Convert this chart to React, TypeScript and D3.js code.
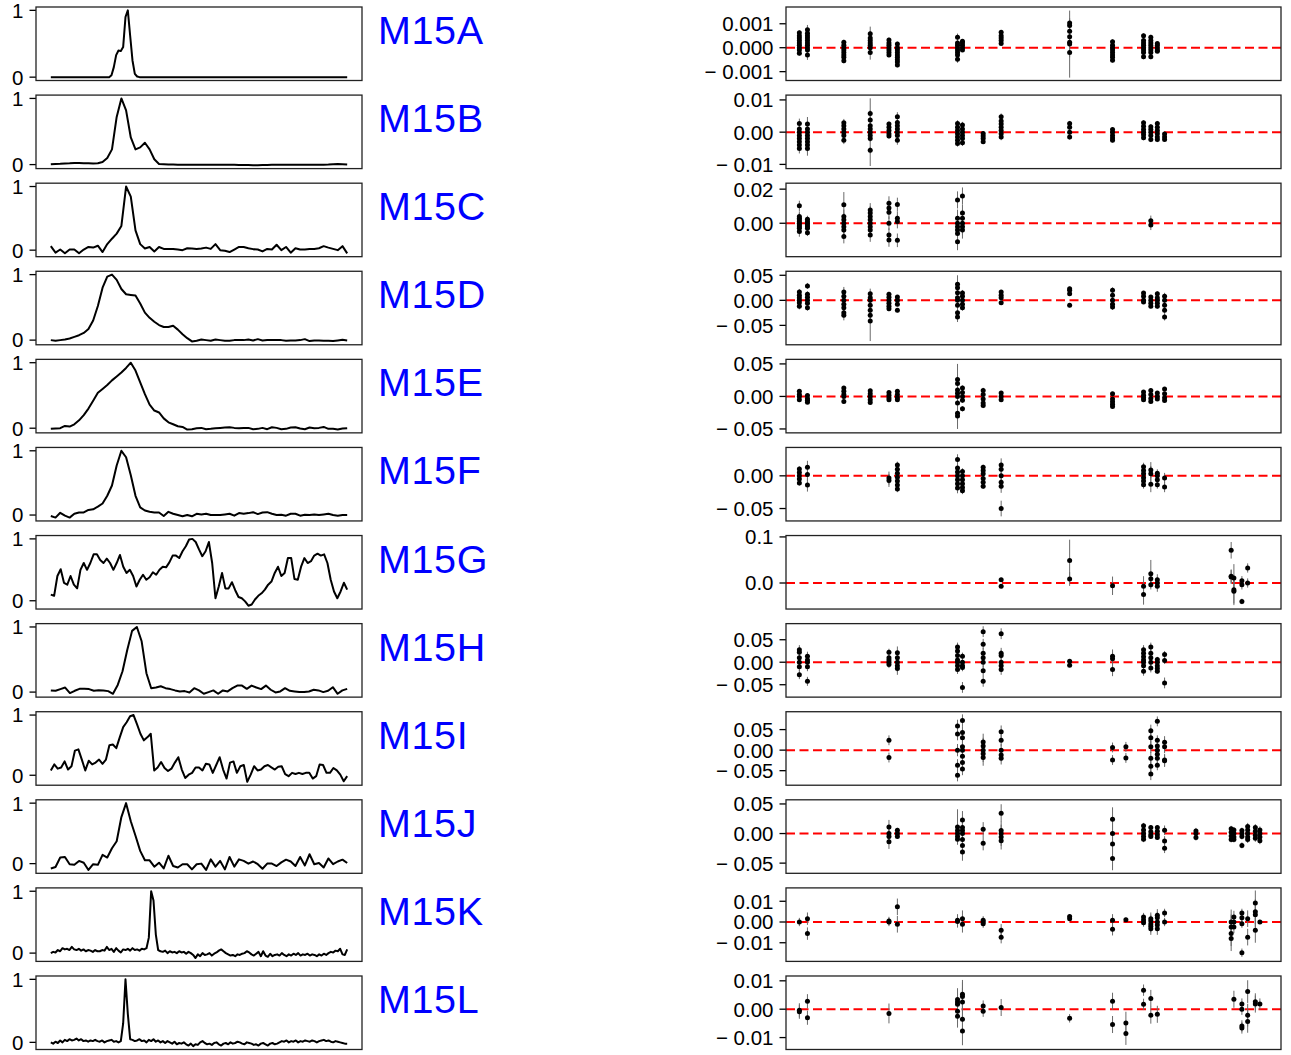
import React from 'react';
import * as d3 from 'd3';

// ---------- names ----------
const names = ['M15A', 'M15B', 'M15C', 'M15D', 'M15E', 'M15F', 'M15G', 'M15H', 'M15I', 'M15J', 'M15K', 'M15L'];

// ---------- pulse profiles (normalised intensity per phase bin) ----------
const profA = [
  0, 0, 0, 0, 0, 0, 0, 0, 0, 0, 0, 0, 0, 0, 0, 0,
  0, 0, 0, 0, 0, 0, 0, 0, 0, 0, 0.03, 0.15, 0.33, 0.4, 0.39, 0.45,
  0.9, 1, 0.62, 0.25, 0.05, 0.01, 0, 0, 0, 0, 0, 0, 0, 0, 0, 0,
  0, 0, 0, 0, 0, 0, 0, 0, 0, 0, 0, 0, 0, 0, 0, 0,
  0, 0, 0, 0, 0, 0, 0, 0, 0, 0, 0, 0, 0, 0, 0, 0,
  0, 0, 0, 0, 0, 0, 0, 0, 0, 0, 0, 0, 0, 0, 0, 0,
  0, 0, 0, 0, 0, 0, 0, 0, 0, 0, 0, 0, 0, 0, 0, 0,
  0, 0, 0, 0, 0, 0, 0, 0, 0, 0, 0, 0, 0, 0, 0, 0,
];
const profB = [
  0.005, 0.01, 0.012, 0.018, 0.02, 0.024, 0.025, 0.022, 0.02, 0.018, 0.02, 0.04, 0.1, 0.23, 0.72, 1.0,
  0.82, 0.41, 0.23, 0.26, 0.33, 0.23, 0.08, 0.01, 0.005, 0.0, 0.0, -0.003, -0.002, -0.004, -0.003, -0.002,
  -0.003, -0.004, -0.002, -0.003, -0.004, -0.003, -0.002, -0.003, -0.005, -0.006, -0.008, -0.01, -0.009, -0.007, -0.005, -0.004,
  -0.003, -0.004, -0.002, -0.003, -0.004, -0.003, -0.002, -0.003, -0.002, -0.001, -0.002, 0.0, 0.004, 0.008, 0.006, 0.002,
];
const profC = [
  0.063, -0.04, 0.01, -0.05, 0.01, 0.01, -0.05, 0.01, 0.05, 0.04, 0.07, -0.03, 0.095, 0.18, 0.26, 0.38,
  1.0, 0.84, 0.31, 0.095, 0.026, 0.05, -0.02, 0.05, 0.02, 0.02, 0.02, 0.01, 0.0, 0.03, 0.026, 0.02,
  0.026, 0.04, 0.02, 0.095, 0.0, -0.01, -0.03, 0.01, 0.05, 0.05, 0.03, 0.016, 0.01, -0.02, 0.02, 0.01,
  0.085, 0.0, 0.05, -0.04, 0.03, 0.01, 0.01, 0.02, 0.02, 0.03, 0.063, 0.04, 0.02, 0.0, 0.063, -0.05,
];
const profD = [
  0.0, -0.01, 0.0, 0.01, 0.025, 0.05, 0.075, 0.11, 0.17, 0.3, 0.52, 0.8, 0.97, 1.0, 0.92, 0.78,
  0.7, 0.69, 0.68, 0.56, 0.42, 0.34, 0.28, 0.23, 0.2, 0.2, 0.22, 0.16, 0.09, 0.03, -0.02, -0.01,
  0.01, 0.0, -0.01, 0.01, 0.0, -0.01, -0.01, 0.0, 0.0, 0.0, 0.01, -0.005, 0.015, -0.005, 0.0, 0.0,
  0.0, 0.0, -0.01, -0.005, -0.005, 0.0, 0.015, -0.015, -0.005, -0.005, -0.01, -0.01, -0.015, -0.005, 0.005, -0.005,
];
const profE = [
  -0.01, -0.005, 0.0, 0.035, 0.025, 0.06, 0.12, 0.2, 0.3, 0.42, 0.54, 0.6, 0.66, 0.73, 0.79, 0.85,
  0.92, 1.0, 0.88, 0.7, 0.52, 0.36, 0.27, 0.24, 0.15, 0.09, 0.06, 0.03, 0.02, -0.02, -0.015, 0.0,
  0.005, -0.015, -0.01, 0.0, 0.005, 0.01, 0.015, 0.005, 0.0, 0.005, 0.005, -0.015, -0.01, 0.005, -0.015, 0.015,
  0.005, -0.015, -0.01, 0.01, 0.015, -0.005, -0.015, 0.01, 0.0, 0.005, 0.02, -0.01, -0.01, -0.02, -0.005, 0.0,
];
const profF = [
  -0.015, -0.04, 0.035, -0.01, -0.04, 0.02, 0.04, 0.04, 0.08, 0.09, 0.13, 0.18, 0.3, 0.46, 0.77, 1.0,
  0.9, 0.62, 0.3, 0.12, 0.07, 0.05, 0.04, 0.04, -0.015, 0.05, 0.02, 0.0, -0.02, 0.0, -0.02, 0.02,
  0.01, 0.02, 0.0, 0.0, 0.0, 0.01, 0.02, -0.01, 0.03, 0.02, 0.03, 0.045, 0.015, 0.04, 0.045, 0.02,
  0.0, 0.005, -0.01, 0.02, 0.02, -0.01, 0.005, 0.0, 0.01, 0.0, 0.01, 0.02, 0.0, -0.01, 0.0, 0.0,
];
const profG = [
  0.1, 0.08, 0.4, 0.51, 0.29, 0.26, 0.4, 0.26, 0.2, 0.5,
  0.61, 0.5, 0.61, 0.75, 0.75, 0.66, 0.61, 0.68, 0.61, 0.5,
  0.61, 0.74, 0.55, 0.45, 0.5, 0.4, 0.23, 0.34, 0.42, 0.34,
  0.38, 0.46, 0.42, 0.5, 0.55, 0.54, 0.62, 0.73, 0.73, 0.69,
  0.8, 0.88, 0.99, 1.0, 0.95, 0.83, 0.72, 0.8, 0.95, 0.61,
  0.04, 0.23, 0.45, 0.2, 0.2, 0.3, 0.17, 0.06, 0.04, -0.01,
  -0.08, -0.06, 0.02, 0.08, 0.12, 0.18, 0.26, 0.31, 0.45, 0.55,
  0.4, 0.45, 0.69, 0.69, 0.35, 0.34, 0.55, 0.69, 0.61, 0.64,
  0.73, 0.76, 0.73, 0.75, 0.61, 0.34, 0.15, 0.04, 0.15, 0.29,
  0.18,
];
const profH = [
  0.026, 0.02, 0.046, 0.07, -0.015, 0.02, 0.05, 0.05, 0.046, 0.02,
  0.03, 0.026, 0.015, -0.026, 0.11, 0.32, 0.65, 0.94, 1.0, 0.78,
  0.29, 0.06, 0.07, 0.09, 0.06, 0.046, 0.026, 0.01, 0.015, -0.005,
  0.06, 0.026, -0.026, 0.0, 0.026, -0.026, 0.026, 0.01, 0.06, 0.1,
  0.1, 0.05, 0.1, 0.07, 0.046, 0.1, 0.036, -0.005, 0.01, 0.06,
  0.02, 0.01, 0.0, 0.0, 0.01, 0.036, 0.026, 0.0, 0.02, 0.075,
  -0.026, 0.026, 0.05,
];
const profI = [
  0.08, 0.18, 0.11, 0.13, 0.23, 0.095, 0.15, 0.41, 0.43, 0.26,
  0.08, 0.24, 0.18, 0.21, 0.26, 0.19, 0.26, 0.5, 0.51, 0.45,
  0.63, 0.8, 0.88, 0.98, 1.0, 0.85, 0.69, 0.58, 0.63, 0.69,
  0.08, 0.13, 0.22, 0.12, 0.07, 0.11, 0.21, 0.3, 0.095, -0.045,
  0.01, 0.04, 0.13, 0.13, 0.08, 0.19, 0.18, 0.04, 0.17, 0.3,
  0.095, -0.055, 0.21, 0.23, 0.04, 0.15, 0.17, -0.11, 0.01, 0.15,
  0.08, 0.095, 0.15, 0.17, 0.13, 0.095, 0.14, 0.15, 0.02, -0.015,
  0.04, 0.02, 0.04, 0.02, 0.04, 0.04, -0.055, -0.015, 0.18, 0.17,
  0.04, 0.04, 0.12, 0.08, 0.01, -0.1, -0.015,
];
const profJ = [
  -0.08, -0.055, 0.1, 0.11, -0.01, -0.02, 0.045, 0.015, -0.105, -0.01, -0.02, 0.145, 0.1, 0.255, 0.37, 0.77,
  1.0, 0.7, 0.46, 0.21, 0.055, 0.055, -0.05, 0.015, -0.08, 0.13, -0.04, -0.065, -0.01, -0.01, -0.095, -0.01,
  0.0, -0.105, 0.07, -0.05, 0.045, -0.095, 0.11, -0.05, 0.07, 0.045, 0.0, 0.035, -0.01, -0.085, 0.0, 0.0,
  -0.04, 0.02, 0.065, 0.035, -0.04, 0.11, -0.03, 0.155, -0.01, 0.01, -0.065, 0.085, -0.01, 0.035, 0.065, 0.01,
];
const profK = [
  0.0, 0.02, 0.01, 0.05, 0.03, 0.08, 0.06, 0.07, 0.05, 0.1, 0.06,
  0.05, 0.07, 0.04, 0.06, 0.03, 0.05, 0.04, 0.02, 0.05, 0.03,
  0.03, 0.05, 0.04, 0.1, 0.05, 0.07, 0.02, 0.08, 0.04, 0.01,
  0.06, 0.05, 0.07, 0.04, 0.08, 0.05, 0.06, 0.04, 0.07, 0.06,
  0.08, 0.25, 1.0, 0.85, 0.3, 0.05, 0.03,
  0.02, 0.04, 0.0, 0.03, 0.01, 0.02, 0.0, 0.03, 0.01, 0.02, -0.01, 0.02, 0.0,
  -0.03, -0.08, -0.02, -0.05, 0.0, -0.03, -0.02, 0.0, -0.04, -0.01,
  0.01, 0.04, 0.06, 0.03, 0.0, -0.02, -0.04, -0.03, -0.05, -0.02,
  -0.03, -0.01, 0.0, 0.03, 0.01, -0.02, -0.04, -0.01, 0.02, -0.05,
  0.03, -0.04, -0.06, -0.01, -0.05, -0.03, -0.02, -0.04, 0.0, -0.03,
  -0.05, -0.02, -0.04, -0.01, -0.03, 0.0, -0.04, -0.02, -0.03, -0.01,
  -0.04, -0.02, -0.03, -0.05, -0.02, -0.04, -0.01, -0.03, 0.0, 0.02,
  0.01, 0.04, 0.03, 0.07, -0.02, -0.03, 0.06,
];
const profL = [
  0.0, -0.02, 0.01, -0.01, 0.03, 0.0, 0.04, 0.02, 0.05, 0.03, 0.04,
  0.06, 0.03, 0.05, 0.02, 0.03, 0.01, 0.03, 0.02, 0.04, 0.02,
  0.01, 0.03, 0.0, 0.02, 0.03, 0.04, 0.01, 0.02, 0.0, 0.02,
  0.3, 1.0, 0.45, 0.05, 0.04, 0.02, 0.03, 0.05, 0.02, 0.03,
  0.0, 0.04, 0.02, 0.05, 0.01, 0.03, 0.0, 0.02, -0.01, 0.02,
  0.0, -0.02, 0.01, -0.03, -0.01, -0.02, 0.0, -0.03, -0.05, -0.02,
  -0.06, -0.03, -0.04, 0.0, 0.02, -0.01, -0.03, -0.02, -0.04, -0.01,
  0.0, -0.03, -0.05, -0.02, -0.01, -0.03, 0.0, -0.02, -0.01, 0.01,
  0.0, -0.02, -0.03, 0.0, -0.01, -0.02, -0.04, -0.03, -0.05, -0.02,
  -0.01, -0.03, -0.05, -0.02, -0.01, -0.03, -0.02, 0.0, 0.02, 0.01,
  0.03, 0.0, 0.02, 0.01, 0.03, 0.0, 0.02, 0.01, 0.03, 0.02,
  0.01, 0.03, 0.02, 0.0, 0.02, 0.03, 0.04, 0.02, 0.03, 0.01,
  0.0, 0.02, 0.01, 0.0, -0.01, -0.02, -0.02,
];

// ---------- timing residuals: [MJD, error, residuals at that epoch] ----------
type Epoch = [number, number, number[]];
const mjdRange = [53000, 59000];

const resA: Epoch[] = [
  [53162, 0.0001, [0.00062, 0.0005, 0.0004, 0.0003, 0.0002, 0.0001, 0.0, -0.0001, -0.00023]],
  [53260, 0.0002, [0.00075, 0.0006, 0.0005, 0.0004, 0.0003, 0.0002, 0.0001, 0.0, -0.0001, -0.00031]],
  [53701, 0.0001, [0.00023, 0.0001, 0.0, -0.0001, -0.0002, -0.0003, -0.0004, -0.00055]],
  [54021, 0.0003, [0.00058, 0.0004, 0.0003, 0.0002, 0.0001, 0.0, -0.0002]],
  [54248, 0.0001, [0.00032, 0.0002, 0.0001, 0.0, -0.0001, -0.0002, -0.0003]],
  [54350, 0.0001, [0.00015, 0.0, -0.0001, -0.0002, -0.0003, -0.0004, -0.0005, -0.0006, -0.00072]],
  [55079, 0.00015, [0.00044, 0.0002, 0.0001, 0.0, -0.0001, -0.0002, -0.0003, -0.00048]],
  [55139, 0.00008, [0.00027, 0.0002, 0.0001, 0.0, -0.0001]],
  [55608, 0.00008, [0.00065, 0.0005, 0.0004, 0.0003, 0.00018]],
  [56438, 0.0014, [0.00015]],
  [56438, 0.0002, [0.00103, 0.00093, 0.00069, 0.00046, 0.00023, -0.0002]],
  [56958, 0.0001, [0.00025, 0.0001, 0.0, -0.0001, -0.0002, -0.0003, -0.0004, -0.00052]],
  [57334, 0.0001, [0.0005, 0.0003, 0.0002, 0.0001, 0.0, -0.0001, -0.0002, -0.00038]],
  [57422, 0.0001, [0.00044, 0.0003, 0.0002, 0.0001, 0.0, -0.0001, -0.0002, -0.00038]],
  [57501, 0.00005, [0.00018, 0.0001, 0.0, -0.0001, -0.00015]],
];
const resB: Epoch[] = [
  [53162, 0.0015, [0.0027, 0.001, 0.0, -0.001, -0.002, -0.003, -0.004, -0.0051]],
  [53260, 0.0022, [0.0025, 0.001, 0.0, -0.001, -0.002, -0.003, -0.004, -0.0051]],
  [53701, 0.0012, [0.0029, 0.002, 0.001, 0.0, -0.001, -0.0025]],
  [54021, 0.0105, [0.0]],
  [54021, 0.001, [0.0058, 0.0038, 0.002, 0.001, -0.001, -0.002, -0.0056]],
  [54248, 0.0008, [0.0025, 0.0015, 0.0005, -0.0005, -0.0012]],
  [54350, 0.0014, [0.0048, 0.003, 0.002, 0.001, 0.0, -0.001, -0.0025]],
  [55079, 0.001, [0.0027, 0.0015, 0.0005, -0.0005, -0.0015, -0.0025, -0.0035]],
  [55139, 0.001, [0.0022, 0.001, 0.0, -0.001, -0.002, -0.0033]],
  [55390, 0.0005, [-0.0004, -0.0012, -0.002, -0.003]],
  [55608, 0.001, [0.0048, 0.0035, 0.0025, 0.0015, 0.0005, -0.0005, -0.0015]],
  [56438, 0.0008, [0.0027, 0.0015, 0.0, -0.0015]],
  [56958, 0.0007, [0.0008, 0.0, -0.001, -0.0018, -0.0025]],
  [57334, 0.0008, [0.0029, 0.0018, 0.0008, 0.0, -0.0008, -0.0017]],
  [57422, 0.0008, [0.0017, 0.0008, 0.0, -0.001, -0.0023]],
  [57501, 0.0008, [0.0027, 0.0015, 0.0005, -0.0005, -0.0015, -0.0023]],
  [57589, 0.0004, [-0.0006, -0.0015, -0.0023]],
];
const resC: Epoch[] = [
  [53162, 0.003, [0.0102, 0.004, 0.003, 0.002, 0.001, 0.0, -0.001, -0.002, -0.003, -0.0049]],
  [53260, 0.002, [0.0024, 0.001, 0.0, -0.001, -0.002, -0.003, -0.0055]],
  [53701, 0.0075, [0.0108]],
  [53701, 0.004, [0.004, 0.002, 0.0, -0.002, -0.004, -0.0078]],
  [54021, 0.004, [0.0078, 0.006, 0.004, 0.002, 0.0, -0.002, -0.004, -0.0069]],
  [54248, 0.004, [0.0118, 0.009, 0.0065, 0.0, -0.0069, -0.0098]],
  [54350, 0.004, [0.011, 0.003, 0.001, -0.01]],
  [55079, 0.005, [0.0137, 0.003, 0.0, -0.002, -0.004, -0.006, -0.0108]],
  [55139, 0.005, [0.016, 0.006, 0.003, 0.0, -0.002, -0.004]],
  [57422, 0.003, [0.0015, -0.001]],
];
const resD: Epoch[] = [
  [53162, 0.006, [0.0167, 0.01, 0.005, 0.0, -0.005, -0.012]],
  [53260, 0.006, [0.0287, 0.012, 0.006, 0.0, -0.006, -0.0147]],
  [53701, 0.01, [0.0167, 0.008, 0.0, -0.008, -0.015, -0.025, -0.03]],
  [54021, 0.04, [-0.0413]],
  [54021, 0.01, [0.0133, 0.005, 0.0, -0.01, -0.02, -0.03]],
  [54248, 0.005, [0.012, 0.006, 0.0, -0.006, -0.012, -0.0167]],
  [54350, 0.004, [0.0067, 0.0, -0.008, -0.02]],
  [55079, 0.018, [0.032]],
  [55079, 0.01, [0.025, 0.015, 0.005, 0.0, -0.01, -0.025, -0.0333]],
  [55139, 0.006, [0.0147, 0.008, 0.0, -0.008, -0.0147]],
  [55608, 0.004, [0.0167, 0.01, 0.005, -0.0047]],
  [56438, 0.004, [0.0233, 0.02, 0.013, -0.01]],
  [56958, 0.006, [0.02, 0.01, 0.0, -0.008, -0.0133]],
  [57334, 0.004, [0.0147, 0.008, 0.0, -0.0033]],
  [57422, 0.004, [0.0067, 0.0, -0.006, -0.012]],
  [57501, 0.005, [0.0133, 0.005, 0.0, -0.006, -0.012]],
  [57589, 0.007, [0.008, 0.0, -0.01, -0.02, -0.0333]],
];
const resE: Epoch[] = [
  [53162, 0.002, [0.0078, 0.003, 0.0, -0.0052]],
  [53260, 0.002, [0.0016, -0.003, -0.006, -0.0088]],
  [53701, 0.003, [0.013, 0.008, 0.003, 0.0, -0.0078]],
  [54021, 0.003, [0.0088, 0.004, 0.0, -0.005, -0.0093]],
  [54248, 0.002, [0.0062, 0.002, -0.002, -0.0052]],
  [54350, 0.002, [0.0078, 0.003, -0.002, -0.0052]],
  [55079, 0.05, [0.0]],
  [55079, 0.008, [0.026, 0.02, 0.01, 0.005, -0.01, -0.026, -0.03]],
  [55139, 0.004, [0.013, 0.006, 0.0, -0.006, -0.019]],
  [55390, 0.004, [0.0093, 0.003, -0.004, -0.01, -0.014]],
  [55608, 0.002, [0.0052, 0.0, -0.0052]],
  [56958, 0.003, [0.004, -0.004, -0.008, -0.012, -0.0155]],
  [57334, 0.002, [0.0067, 0.002, -0.002, -0.0052]],
  [57422, 0.003, [0.0093, 0.003, -0.003, -0.0078]],
  [57501, 0.002, [0.0052, 0.0, -0.004]],
  [57589, 0.003, [0.0114, 0.004, -0.002, -0.0062]],
];
const resF: Epoch[] = [
  [53162, 0.004, [0.0106, 0.005, 0.0, -0.005, -0.011]],
  [53260, 0.01, [0.013, 0.002, -0.0141]],
  [54248, 0.01, [-0.0035, -0.007]],
  [54350, 0.005, [0.0167, 0.01, 0.004, -0.002, -0.008, -0.014, -0.02]],
  [55079, 0.008, [0.025, 0.012, 0.006, 0.0, -0.006, -0.012, -0.0187]],
  [55139, 0.005, [0.0066, 0.0, -0.006, -0.012, -0.018, -0.023]],
  [55390, 0.004, [0.013, 0.008, 0.003, -0.004, -0.01, -0.016]],
  [55608, 0.01, [0.0167, 0.01, 0.0, -0.01, -0.016]],
  [55608, 0.012, [-0.05]],
  [57334, 0.006, [0.014, 0.008, 0.003, -0.003, -0.008, -0.0136]],
  [57422, 0.012, [0.009, 0.003, -0.013]],
  [57501, 0.006, [0.004, 0.0, -0.006, -0.0136]],
  [57589, 0.008, [-0.0035, -0.017]],
];
const resG: Epoch[] = [
  [55608, 0.004, [0.0072, -0.0072]],
  [56438, 0.045, [0.049]],
  [56438, 0.015, [0.0087]],
  [56958, 0.02, [-0.006]],
  [57334, 0.022, [-0.0072, -0.025]],
  [57422, 0.03, [0.02]],
  [57422, 0.01, [0.009, -0.004]],
  [57501, 0.012, [0.007, 0.0, -0.007]],
  [58396, 0.018, [0.071]],
  [58396, 0.015, [0.0145, 0.013]],
  [58429, 0.03, [0.011, -0.0145, -0.018]],
  [58526, 0.01, [0.005, -0.004]],
  [58526, 0.006, [-0.04]],
  [58596, 0.01, [0.0326, 0.0]],
];
const resH: Epoch[] = [
  [53162, 0.01, [0.028, 0.022, 0.01, 0.0, -0.01, -0.0276]],
  [53260, 0.01, [0.0134, 0.005, 0.0, -0.01, -0.0425]],
  [54248, 0.008, [0.022, 0.01, 0.005, 0.0, -0.005]],
  [54350, 0.014, [0.021, 0.01, 0.0, -0.008, -0.014]],
  [55079, 0.01, [0.0336, 0.025, 0.015, 0.005, 0.0, -0.008, -0.016]],
  [55139, 0.008, [0.0134, 0.0, -0.008, -0.012]],
  [55139, 0.012, [-0.056]],
  [55390, 0.012, [0.068, 0.04, 0.02, 0.01, 0.0, -0.019, -0.0425]],
  [55608, 0.012, [0.0634, 0.02, 0.015, 0.0, -0.008, -0.016]],
  [56438, 0.004, [0.002, -0.0067]],
  [56958, 0.015, [0.0134, 0.008, -0.016]],
  [57334, 0.01, [0.028, 0.02, 0.012, 0.005, 0.0, -0.008, -0.02]],
  [57422, 0.01, [0.0336, 0.02, 0.01, 0.0, -0.0127]],
  [57501, 0.006, [0.006, 0.0, -0.008, -0.014, -0.02]],
  [57589, 0.008, [0.017, 0.004]],
  [57589, 0.012, [-0.046]],
];
const resI: Epoch[] = [
  [54248, 0.012, [0.024, -0.018]],
  [55079, 0.015, [0.059, 0.039, 0.0, -0.037, -0.061]],
  [55139, 0.015, [0.072, 0.043, 0.03, 0.008, 0.0, -0.015, -0.03, -0.046]],
  [55390, 0.02, [0.02, 0.01, 0.0, -0.009, -0.018]],
  [55608, 0.015, [0.045, 0.024, 0.0, -0.012, -0.02]],
  [56958, 0.012, [0.0065, -0.024]],
  [57120, 0.012, [0.008, -0.019]],
  [57422, 0.015, [0.047, 0.03, 0.008, -0.02, -0.039, -0.058]],
  [57501, 0.012, [0.07, 0.024, 0.01, 0.0, -0.01, -0.02, -0.037]],
  [57589, 0.015, [0.019, 0.008, -0.024, -0.026]],
];
const resJ: Epoch[] = [
  [54248, 0.012, [0.011, 0.0, -0.005, -0.014]],
  [54350, 0.004, [0.0056, 0.0, -0.005]],
  [55079, 0.03, [0.011]],
  [55079, 0.008, [0.005, 0.0, -0.005, -0.0096]],
  [55139, 0.015, [0.023, 0.01, 0.005, 0.0, -0.01, -0.02, -0.031]],
  [55390, 0.012, [0.0073, -0.0164]],
  [55608, 0.015, [0.0345, 0.005, 0.0, -0.006, -0.012]],
  [56958, 0.02, [0.0243, 0.0, -0.0175, -0.042]],
  [57334, 0.005, [0.013, 0.006, 0.0, -0.005, -0.0096]],
  [57422, 0.004, [0.01, 0.003, -0.002, -0.005]],
  [57501, 0.004, [0.01, 0.004, -0.002, -0.0068]],
  [57589, 0.008, [0.0056, -0.0124, -0.025]],
  [57969, 0.005, [0.0045, 0.0, -0.0068]],
  [58396, 0.005, [0.008, 0.002, -0.004, -0.01]],
  [58429, 0.005, [0.006, 0.0, -0.006, -0.01]],
  [58526, 0.005, [0.005, 0.0, -0.005, -0.02]],
  [58596, 0.006, [0.012, 0.006, 0.0, -0.006, -0.01]],
  [58689, 0.006, [0.01, 0.004, -0.003, -0.008]],
  [58744, 0.006, [0.006, 0.0, -0.006, -0.012]],
];
const resK: Epoch[] = [
  [53162, 0.002, [0.0]],
  [53260, 0.003, [0.0016, -0.0056]],
  [54248, 0.002, [0.0005, 0.0]],
  [54350, 0.004, [0.0073, -0.0011]],
  [55079, 0.003, [0.0008, 0.0003]],
  [55139, 0.004, [0.0016, -0.0011]],
  [55390, 0.002, [0.0008, 0.0, -0.0008]],
  [55608, 0.003, [-0.004, -0.0073]],
  [56438, 0.001, [0.0027, 0.0016]],
  [56958, 0.003, [0.0008, -0.0035]],
  [57120, 0.001, [0.0011]],
  [57334, 0.002, [0.0024, 0.001, -0.0003]],
  [57422, 0.003, [0.0016, 0.0005, -0.001, -0.002, -0.0032]],
  [57501, 0.003, [0.0032, 0.002, 0.0, -0.0015, -0.0032]],
  [57589, 0.002, [0.0044, 0.0]],
  [58396, 0.006, [0.0, -0.0024, -0.0056, -0.008]],
  [58429, 0.003, [0.0024, 0.0, -0.0024]],
  [58526, 0.002, [0.0044, 0.002, -0.0008]],
  [58526, 0.002, [-0.0148]],
  [58596, 0.004, [0.0016, -0.0073]],
  [58689, 0.006, [0.0092, 0.005, 0.0035, -0.004]],
  [58744, 0.001, [0.0]],
];
const resL: Epoch[] = [
  [53162, 0.0025, [-0.0004, -0.0009]],
  [53260, 0.0025, [0.0028, -0.003]],
  [54248, 0.0035, [-0.0015]],
  [55079, 0.004, [0.0034, 0.0025, 0.0017, -0.0007, -0.0025]],
  [55139, 0.005, [0.0053, 0.0045, 0.0025, -0.0035, -0.0077]],
  [55390, 0.002, [0.0011, -0.0007]],
  [55608, 0.003, [0.0006]],
  [56438, 0.0015, [-0.0032]],
  [56958, 0.003, [0.0028, -0.0054]],
  [57120, 0.004, [-0.0049, -0.0086]],
  [57334, 0.002, [0.0067, 0.0017]],
  [57422, 0.003, [0.0038, -0.0021]],
  [57501, 0.003, [-0.0018]],
  [58429, 0.003, [0.0035]],
  [58526, 0.002, [0.0018, 0.0, -0.0059, -0.0066]],
  [58596, 0.004, [0.0062, -0.0021, -0.0043]],
  [58689, 0.003, [0.0026, 0.0018]],
  [58744, 0.002, [0.0018]],
];

// ---------- residual axis limits and ticks ----------
const yLimA = [-0.00137, 0.0017], ticksA = [0.001, 0, -0.001];
const yLimB = [-0.0113, 0.0115], ticksB = [0.01, 0, -0.01];
const yLimC = [-0.0196, 0.0235], ticksC = [0.02, 0];
const yLimD = [-0.0887, 0.058], ticksD = [0.05, 0, -0.05];
const yLimE = [-0.056, 0.057], ticksE = [0.05, 0, -0.05];
const yLimF = [-0.069, 0.0434], ticksF = [0, -0.05];
const yLimG = [-0.0565, 0.103], ticksG = [0.1, 0];
const yLimH = [-0.0776, 0.0858], ticksH = [0.05, 0, -0.05];
const yLimI = [-0.0854, 0.0935], ticksI = [0.05, 0, -0.05];
const yLimJ = [-0.0672, 0.057], ticksJ = [0.05, 0, -0.05];
const yLimK = [-0.019, 0.01645], ticksK = [0.01, 0, -0.01];
const yLimL = [-0.0142, 0.0117], ticksL = [0.01, 0, -0.01];
const profileTicks = [0, 1];

const profiles = [profA, profB, profC, profD, profE, profF, profG, profH, profI, profJ, profK, profL];
const residuals = [resA, resB, resC, resD, resE, resF, resG, resH, resI, resJ, resK, resL];
const yLims = [yLimA, yLimB, yLimC, yLimD, yLimE, yLimF, yLimG, yLimH, yLimI, yLimJ, yLimK, yLimL];
const yTicks = [ticksA, ticksB, ticksC, ticksD, ticksE, ticksF, ticksG, ticksH, ticksI, ticksJ, ticksK, ticksL];

const FONT = "'Liberation Sans', Arial, Helvetica, sans-serif";

function fmtTick(v: number, ticks: number[]) {
  const sorted = [...ticks].sort((a, b) => a - b);
  let step = Infinity;
  for (let k = 1; k < sorted.length; k++) step = Math.min(step, sorted[k] - sorted[k - 1]);
  const p = d3.precisionFixed(step);
  const s = d3.format(`.${p}f`)(v);
  return s.replace('\u2212', '\u2212 ').replace('-', '\u2212 ');
}

export default function App() {
  const W = 1291, H = 1055;
  const top0 = 7, pitch = 88.09, ph = 73.5;
  const L0 = 36, L1 = 362, R0 = 786, R1 = 1281;
  const tickLen = 6.5, tickPad = 6.0;
  const tickFont = 20.5;
  const xR = d3.scaleLinear().domain(mjdRange).range([R0, R1]);

  return (
    <svg width={W} height={H} style={{ position: 'absolute', left: 0, top: 0, display: 'block' }} fontFamily={FONT}>
      <rect x={0} y={0} width={W} height={H} fill="#fff" />
      {names.map((name, i) => {
        const top = top0 + i * pitch;
        const bottom = top + ph;
        // ---- profile panel ----
        const prof = profiles[i];
        const n = prof.length;
        const xs = d3.scaleLinear().domain([-0.05 * (n - 1), 1.05 * (n - 1)]).range([L0, L1]);
        const [mn, mx] = d3.extent(prof) as [number, number];
        const r = mx - mn;
        const ys = d3.scaleLinear().domain([mn - 0.05 * r, mx + 0.05 * r]).range([bottom, top]);
        const path = d3.line<number>().x((_, j) => xs(j)).y((v) => ys(v))(prof) || '';

        // ---- residual panel ----
        const yr = d3.scaleLinear().domain(yLims[i]).range([bottom, top]);
        const res = residuals[i];
        const ticks = yTicks[i];

        return (
          <g key={name}>
            {/* profile */}
            <path d={path} fill="none" stroke="#000" strokeWidth={2} strokeLinejoin="round" />
            {profileTicks.map((t) => (
              <g key={t}>
                <line x1={L0 - tickLen} x2={L0} y1={ys(t)} y2={ys(t)} stroke="#000" strokeWidth={1.3} />
                <text x={L0 - tickLen - tickPad} y={ys(t)} dy="0.36em" textAnchor="end" fontSize={tickFont} fill="#000">{t}</text>
              </g>
            ))}
            <rect x={L0} y={top} width={L1 - L0} height={ph} fill="none" stroke="#222" strokeWidth={1.3} />
            {/* name */}
            <text x={378} y={top + 37} fontSize={39.5} fill="#0000ff" letterSpacing={0.6}>{name}</text>

            {/* residuals */}
            <line x1={R0} x2={R1} y1={yr(0)} y2={yr(0)} stroke="#ff0000" strokeWidth={2} strokeDasharray="9,4.5" />
            {res.map(([mjd, err, vals], k) => (
              <g key={`e${k}`}>
                {vals.map((v, m) => (
                  <line key={m} x1={xR(mjd)} x2={xR(mjd)} y1={yr(v - err)} y2={yr(v + err)} stroke="#6a6a6a" strokeWidth={1} />
                ))}
              </g>
            ))}
            {res.map(([mjd, , vals], k) => (
              <g key={`p${k}`}>
                {vals.map((v, m) => (
                  <circle key={m} cx={xR(mjd)} cy={yr(v)} r={2.5} fill="#000" />
                ))}
              </g>
            ))}
            {ticks.map((t) => (
              <g key={t}>
                <line x1={R0 - tickLen} x2={R0} y1={yr(t)} y2={yr(t)} stroke="#000" strokeWidth={1.3} />
                <text x={R0 - tickLen - tickPad} y={yr(t)} dy="0.36em" textAnchor="end" fontSize={tickFont} fill="#000">{fmtTick(t, ticks)}</text>
              </g>
            ))}
            <rect x={R0} y={top} width={R1 - R0} height={ph} fill="none" stroke="#222" strokeWidth={1.3} />
          </g>
        );
      })}
    </svg>
  );
}
